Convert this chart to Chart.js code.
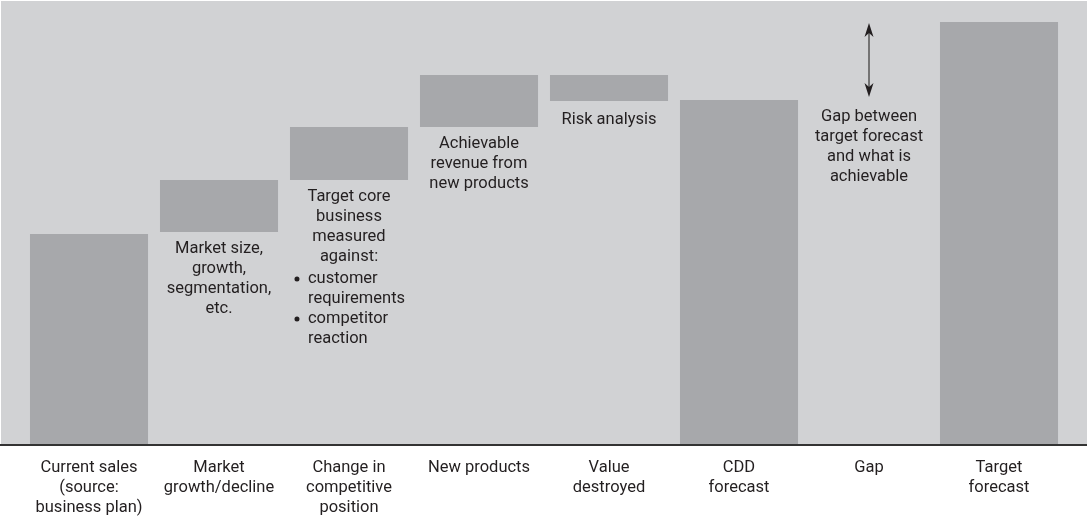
<!DOCTYPE html>
<html>
<head>
<meta charset="utf-8">
<script src="https://cdn.jsdelivr.net/npm/chart.js@4/dist/chart.umd.min.js"></script>
<style>
  html, body { margin: 0; padding: 0; background: #ffffff; }
  #wrap { width: 1089px; height: 517px; }
</style>
</head>
<body>
<div id="wrap"><canvas id="waterfall"></canvas></div>
<script>
// Données du graphique (unités arbitraires)
const categories = [
    ['Current sales', '(source:', 'business plan)'],
    ['Market', 'growth/decline'],
    ['Change in', 'competitive', 'position'],
    ['New products'],
    ['Value', 'destroyed'],
    ['CDD', 'forecast'],
    ['Gap'],
    ['Target', 'forecast']
];
const barStart = [0, 213, 265, 318, 344, 0, null, 0];
const barEnd = [211, 265, 318, 370, 370, 345, null, 423];
const gapRange = [348, 422];

// Textes sous les barres flottantes
const noteLines = [
    [],
    ['Market size,', 'growth,', 'segmentation,', 'etc.'],
    ['Target core', 'business', 'measured', 'against:'],
    ['Achievable', 'revenue from', 'new products'],
    ['Risk analysis'],
    [],
    ['Gap between', 'target forecast', 'and what is', 'achievable'],
    []
];
const bulletLines = [
    [], [], ['customer', 'requirements', null, 'competitor', 'reaction'], [], [], [], [], []
];

const FONT = 'Roboto, "DejaVu Sans", sans-serif';
const TEXT_COLOR = '#231f20';
const SIDE = 23; // le fond gris déborde de la zone des catégories

// Fond gris de la zone de tracé + ligne de base
const plotBackground = {
    id: 'plotBackground',
    beforeDraw(chart) {
        const { ctx, chartArea } = chart;
        ctx.save();
        ctx.fillStyle = '#d1d2d4';
        ctx.fillRect(chartArea.left - SIDE, chartArea.top, chartArea.right - chartArea.left + 2 * SIDE, chartArea.bottom - chartArea.top);
        ctx.restore();
    },
    afterDatasetsDraw(chart) {
        const { ctx, chartArea } = chart;
        ctx.save();
        ctx.strokeStyle = '#333333';
        ctx.lineWidth = 2;
        ctx.beginPath();
        ctx.moveTo(0, chartArea.bottom);
        ctx.lineTo(chartArea.right + SIDE, chartArea.bottom);
        ctx.stroke();
        ctx.restore();
    }
};

// Annotations : textes et flèche de l'écart
const notes = {
    id: 'notes',
    afterDatasetsDraw(chart) {
        const { ctx } = chart;
        const x = chart.scales.x;
        const y = chart.scales.y;
        const meta = chart.getDatasetMeta(0);
        const lh = 20;
        ctx.save();
        ctx.fillStyle = TEXT_COLOR;
        ctx.font = '16.5px ' + FONT;
        ctx.textBaseline = 'middle';

        categories.forEach((c, i) => {
            const cx = x.getPixelForValue(i);
            let top;
            if (i === 6) {
                top = y.getPixelForValue(gapRange[0]) + 20;
            } else if (i === 4) {
                top = y.getPixelForValue(barStart[i]) + 19;
            } else {
                top = y.getPixelForValue(barStart[i]) + 17;
            }
            ctx.textAlign = 'center';
            noteLines[i].forEach((line, k) => {
                ctx.fillText(line, cx, top + k * lh);
            });
            // Liste à puces
            if (bulletLines[i].length) {
                const bar = meta.data[i];
                const left = bar.x - bar.width / 2;
                let yy = top + noteLines[i].length * lh + 2;
                let first = true;
                ctx.textAlign = 'left';
                bulletLines[i].forEach((line) => {
                    if (line === null) { first = true; return; }
                    if (first) {
                        ctx.beginPath();
                        ctx.arc(left + 7, yy, 2.5, 0, Math.PI * 2);
                        ctx.fill();
                        first = false;
                    }
                    ctx.fillText(line, left + 18, yy);
                    yy += lh;
                });
            }
        });

        // Flèche double
        const ax = x.getPixelForValue(6);
        const y1 = y.getPixelForValue(gapRange[1]);
        const y2 = y.getPixelForValue(gapRange[0]);
        ctx.strokeStyle = '#555555';
        ctx.lineWidth = 1.5;
        ctx.beginPath();
        ctx.moveTo(ax, y1 + 6);
        ctx.lineTo(ax, y2 - 6);
        ctx.stroke();
        ctx.fillStyle = '#231f20';
        ctx.beginPath();
        ctx.moveTo(ax, y1);
        ctx.lineTo(ax - 4.5, y1 + 14);
        ctx.lineTo(ax, y1 + 10);
        ctx.lineTo(ax + 4.5, y1 + 14);
        ctx.closePath();
        ctx.fill();
        ctx.beginPath();
        ctx.moveTo(ax, y2);
        ctx.lineTo(ax - 4.5, y2 - 14);
        ctx.lineTo(ax, y2 - 10);
        ctx.lineTo(ax + 4.5, y2 - 14);
        ctx.closePath();
        ctx.fill();
        ctx.restore();
    }
};

const chart = new Chart(document.getElementById('waterfall'), {
    type: 'bar',
    data: {
        labels: categories,
        datasets: [{
            data: barStart.map((s, i) => s === null ? null : [s, barEnd[i]]),
            backgroundColor: '#a7a8ab',
            borderWidth: 0,
            categoryPercentage: 1,
            barPercentage: 0.908
        }]
    },
    options: {
        responsive: true,
        maintainAspectRatio: false,
        animation: false,
        layout: { padding: { top: 1, left: 1 + SIDE, right: 2 + SIDE, bottom: 0 } },
        plugins: {
            legend: { display: false },
            tooltip: { enabled: false }
        },
        scales: {
            x: {
                grid: { display: false, drawTicks: false },
                border: { display: false },
                afterFit(scale) { scale.height = 72; },
                ticks: {
                    color: TEXT_COLOR,
                    font: { family: FONT, size: 16.5, lineHeight: 1.212 },
                    padding: 13,
                    maxRotation: 0,
                    autoSkip: false
                }
            },
            y: {
                display: false,
                min: 0,
                max: 444
            }
        }
    },
    plugins: [plotBackground, notes]
});
</script>
</body>
</html>
